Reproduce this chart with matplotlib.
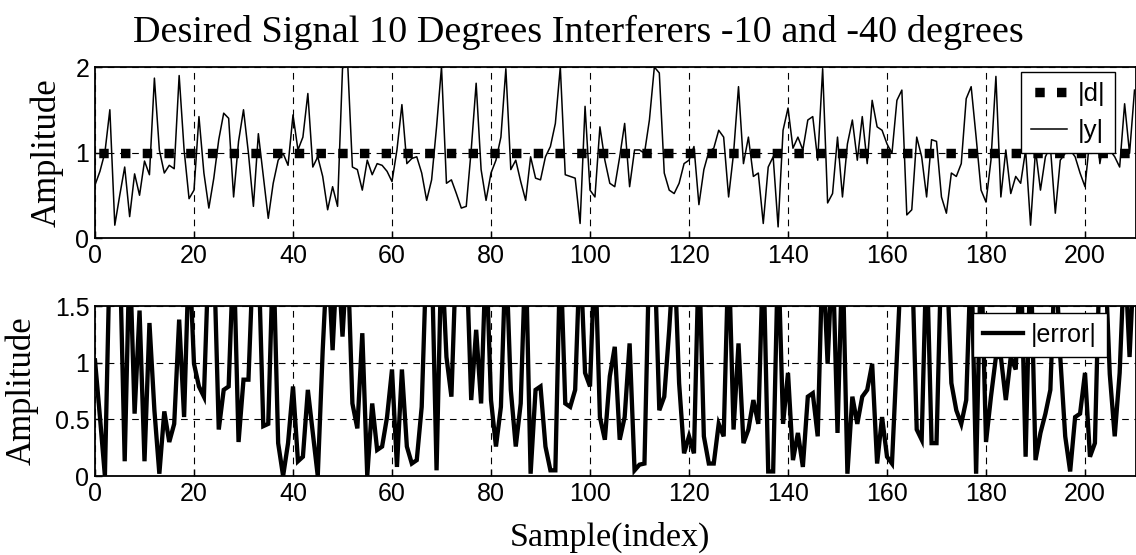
import numpy as np
import matplotlib.pyplot as plt
from matplotlib.ticker import FormatStrFormatter

# |y|, samples 0..210
y_mag = [0.62, 0.78, 1.0, 1.5, 0.15, 0.5, 0.83, 0.25, 0.75, 0.5,
         0.9, 0.74, 1.87, 1.03, 0.76, 0.85, 0.81, 1.9, 1.03, 0.46,
         0.56, 1.42, 0.76, 0.35, 0.7, 1.15, 1.46, 1.4, 0.48, 1.13,
         1.5, 0.99, 0.37, 1.22, 0.72, 0.23, 0.64, 0.91, 0.99, 0.85,
         1.44, 1.03, 1.18, 1.69, 0.83, 0.95, 0.72, 0.33, 0.6, 0.37,
         1.98, 2.1, 0.83, 0.8, 0.56, 0.91, 0.74, 0.87, 0.85, 0.78,
         0.66, 1.03, 1.56, 0.87, 0.93, 0.95, 0.76, 0.44, 0.68, 1.3,
         2.0, 0.64, 0.68, 0.52, 0.35, 0.37, 1.03, 1.81, 0.8, 0.44,
         0.76, 0.91, 1.18, 1.98, 0.8, 0.91, 0.66, 0.44, 0.95, 0.7,
         0.68, 0.95, 1.07, 1.34, 2.0, 0.74, 0.72, 0.7, 0.17, 1.54,
         0.56, 0.48, 1.3, 0.91, 0.64, 0.6, 0.95, 1.34, 0.6, 1.03,
         1.03, 0.99, 1.38, 2.0, 1.93, 0.76, 0.56, 0.52, 0.64, 0.87,
         0.91, 1.07, 0.39, 0.8, 1.01, 1.05, 1.26, 1.18, 0.48, 0.99,
         1.77, 0.87, 1.18, 0.72, 0.76, 0.17, 0.83, 0.95, 0.13, 1.26,
         1.52, 1.05, 1.18, 1.03, 1.38, 1.42, 0.91, 1.98, 0.41, 0.52,
         1.18, 0.48, 1.1, 1.38, 0.91, 1.42, 0.87, 1.61, 1.3, 1.26,
         1.1, 0.99, 1.61, 1.73, 0.27, 0.33, 1.18, 0.95, 0.48, 1.15,
         1.13, 0.48, 0.29, 0.76, 0.72, 0.87, 1.63, 1.77, 1.18, 0.56,
         0.42, 0.91, 1.89, 0.48, 1.03, 0.52, 0.72, 0.64, 1.03, 0.15,
         1.03, 0.56, 0.95, 1.07, 0.29, 0.91, 0.99, 1.03, 0.95, 0.76,
         0.6, 1.18, 1.5, 0.87, 1.22, 1.03, 0.95, 0.83, 1.57, 0.99,
         1.73]

# |d| is the constant desired envelope
d_mag = [1.0] * 211

# |error| (values above 1.5 run off the top)
err_mag = [1.02, 0.52, 0.0, 2, 2, 2, 0.13, 2, 0.55, 1.46,
           0.13, 1.35, 0.58, 0.02, 0.57, 0.3, 0.46, 1.38, 0.52, 2,
           0.99, 0.79, 0.7, 2, 2, 0.41, 0.76, 0.79, 2, 0.3,
           0.85, 0.85, 2, 2, 0.44, 0.46, 2, 0.29, 0.0, 0.29,
           0.79, 0.13, 0.17, 0.76, 0.38, 0.0, 1.11, 2, 1.11, 2,
           1.23, 2, 0.64, 0.42, 1.26, 0.0, 0.64, 0.23, 0.26, 0.52,
           0.94, 0.08, 0.94, 0.26, 0.11, 0.14, 0.61, 2, 2, 0.05,
           2, 1.05, 0.7, 2, 2, 2, 0.67, 1.29, 0.64, 2,
           0.67, 0.26, 0.61, 2, 0.76, 0.26, 0.64, 2, 0.02, 0.76,
           0.79, 0.26, 0.05, 0.05, 2, 0.64, 0.61, 0.76, 2, 0.91,
           0.79, 2, 0.52, 0.32, 0.88, 1.14, 0.32, 0.52, 1.17, 0.05,
           0.1, 0.11, 2, 2, 0.58, 0.7, 1.29, 2, 0.82, 0.2,
           0.35, 0.2, 2, 0.35, 0.11, 0.11, 0.46, 0.35, 2, 0.41,
           1.17, 0.29, 0.41, 0.67, 0.46, 2, 0.04, 0.04, 2, 0.46,
           0.91, 0.14, 0.38, 0.08, 0.7, 0.73, 0.35, 2, 0.99, 2,
           0.38, 2, 0.02, 0.7, 0.46, 0.7, 0.76, 0.99, 0.11, 0.52,
           0.17, 0.11, 1.05, 2, 2, 2, 0.41, 0.32, 2, 0.29,
           0.29, 2, 2, 0.82, 0.58, 0.46, 0.67, 2, 0.02, 2,
           0.3, 0.7, 1.05, 1.05, 0.67, 1.05, 0.94, 2, 0.17, 2,
           0.14, 0.38, 0.55, 0.76, 2, 1.05, 0.35, 0.04, 0.52, 0.55,
           0.91, 0.17, 0.29, 2, 2, 0.9, 0.35, 0.91, 2, 1.05,
           2]

samples = np.arange(len(y_mag))
xticks = list(range(0, 201, 20))

serif = ['Liberation Serif', 'DejaVu Serif']
sans = ['Liberation Sans', 'DejaVu Sans']
plt.rcParams['font.family'] = sans

fig = plt.figure(figsize=(11.36, 5.55), dpi=100)
ax1 = fig.add_axes([95 / 1136, 1 - 238 / 555, 1041 / 1136, 171 / 555])
ax2 = fig.add_axes([95 / 1136, 1 - 476 / 555, 1041 / 1136, 170 / 555])

grid_style = dict(color='k', linestyle=(0, (6, 5)), linewidth=0.8)

# upper panel
ax1.plot(samples, d_mag, color='k', lw=6.8, linestyle=(1.9, (1.0, 1.3)),
         dash_capstyle='butt', label='|d|', zorder=3)
ax1.plot(samples, y_mag, color='k', lw=1.1, label='|y|', zorder=4)
ax1.set_ylim(0, 2)
ax1.set_yticks([0, 1, 2])
ax1.set_ylabel('Amplitude', family=serif, fontsize=25)
ax1.legend(loc='upper right', bbox_to_anchor=(0.980, 0.971), fontsize=18.5,
           fancybox=False, edgecolor='k', framealpha=1, handlelength=1.4,
           handletextpad=0.4, borderaxespad=0)

# lower panel
ax2.plot(samples, err_mag, color='k', lw=3.1, label='|error|',
         solid_joinstyle='miter')
ax2.set_ylim(0, 1.5)
ax2.set_yticks([0, 0.5, 1, 1.5])
ax2.yaxis.set_major_formatter(FormatStrFormatter('%g'))
ax2.set_ylabel('Amplitude', family=serif, fontsize=25)
ax2.set_xlabel('Sample(index)', family=serif, fontsize=24.5)
ax2.legend(loc='upper right', bbox_to_anchor=(0.972, 0.959), fontsize=18,
           fancybox=False, edgecolor='k', framealpha=1, handlelength=1.6,
           handletextpad=0.3, borderaxespad=0)

for ax in (ax1, ax2):
    ax.set_xlim(0, 210.3)
    ax.set_xticks(xticks)
    ax.grid(True, **grid_style)
    ax.tick_params(direction='in', length=5, width=1, labelsize=18, pad=4)
    for sp in ax.spines.values():
        sp.set_linewidth(1.3)

ax1.yaxis.set_label_coords(-0.030, 0.5)
ax2.yaxis.set_label_coords(-0.054, 0.5)
ax2.xaxis.set_label_coords(0.495, -0.27)

fig.text(0.509, 1 - 42 / 555, 'Desired Signal 10 Degrees Interferers -10 and -40 degrees',
         family=serif, fontsize=27.5, ha='center', va='baseline')

fig.savefig('out.png', dpi=100)
